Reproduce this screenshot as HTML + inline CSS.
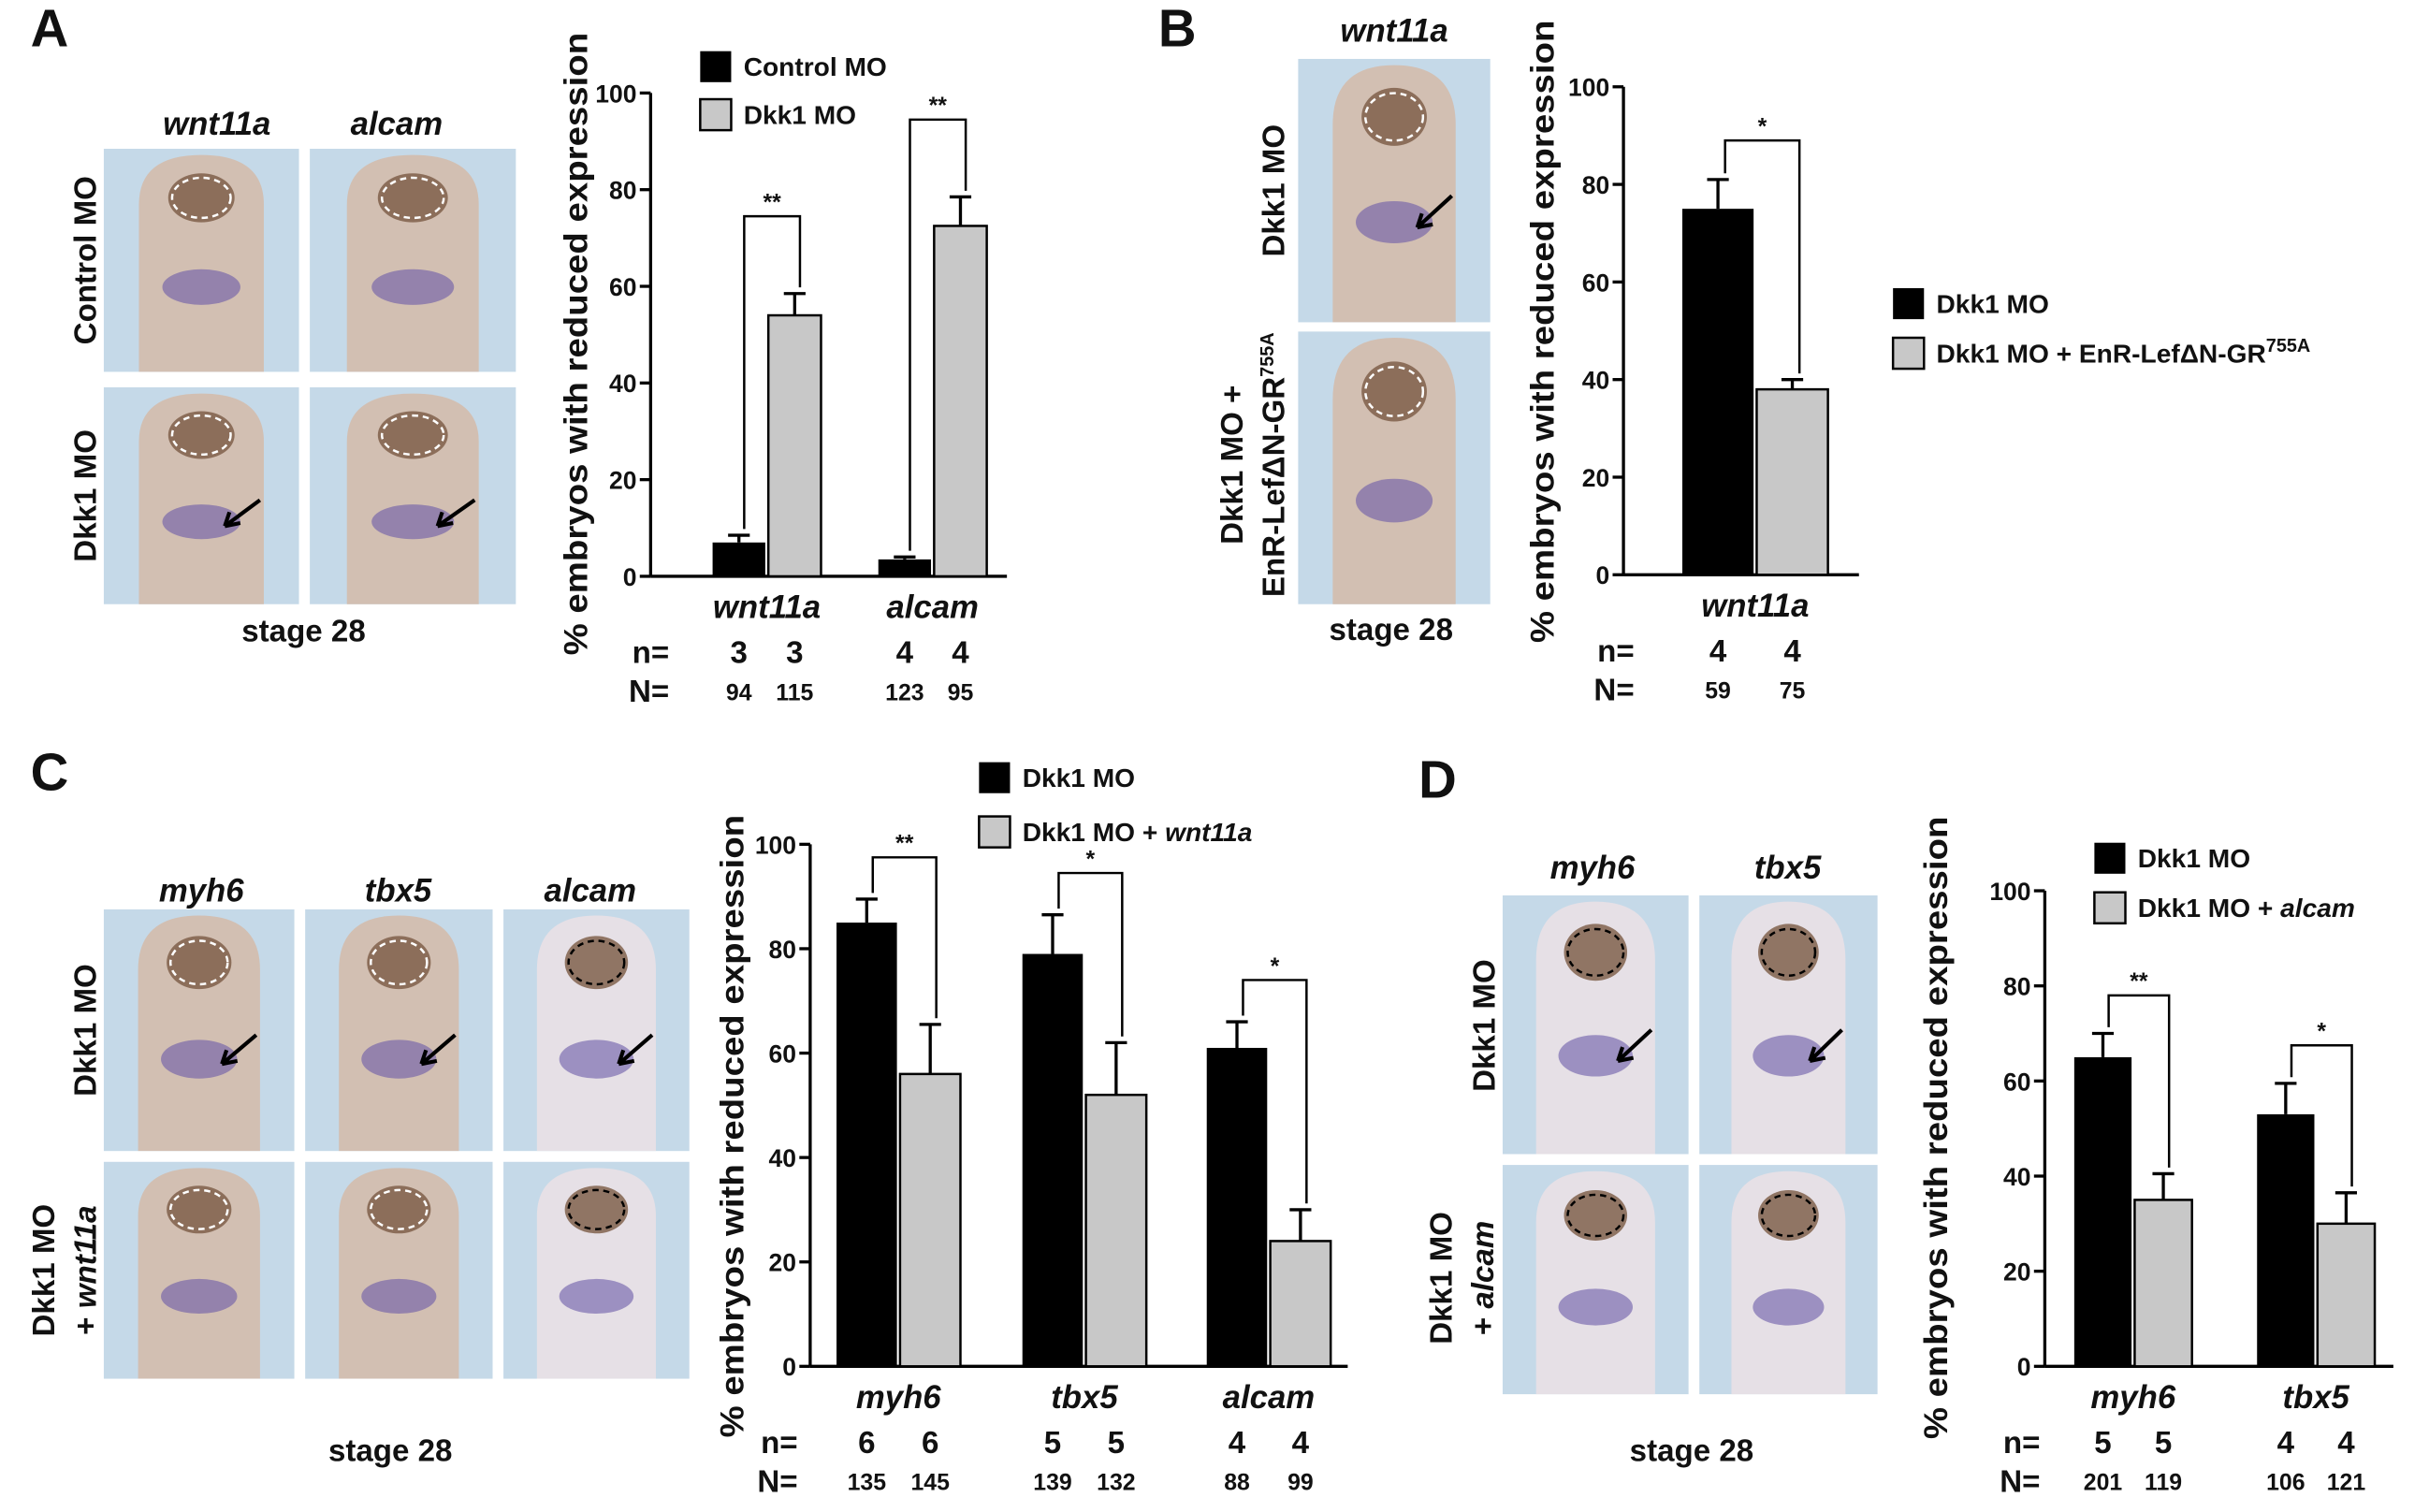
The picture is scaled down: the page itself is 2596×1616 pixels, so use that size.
<!DOCTYPE html>
<html><head><meta charset="utf-8"><style>
html,body{margin:0;padding:0;background:#fff}
svg{display:block}
text{font-family:"Liberation Sans",Arial,sans-serif;font-weight:bold;fill:#111}
</style></head><body>
<svg id="fig" width="2596" height="1616" viewBox="0 0 1568 976" xmlns="http://www.w3.org/2000/svg">
<g id="static"></g>
</svg>
<script>
// ---- Data (values in % embryos with reduced expression) ----
const ticks = [0, 20, 40, 60, 80, 100];

const catsA = ["wnt11a", "alcam"];
const blackA = [7, 3.5];
const blackErrA = [8.5, 4];
const grayA = [54, 72.5];
const grayErrA = [58.5, 78.5];
const nA = [3, 3, 4, 4];
const NA = [94, 115, 123, 95];
const sigA = ["**", "**"];

const catsB = ["wnt11a"];
const blackB = [75];
const blackErrB = [81];
const grayB = [38];
const grayErrB = [40];
const nB = [4, 4];
const NB = [59, 75];
const sigB = ["*"];

const catsC = ["myh6", "tbx5", "alcam"];
const blackC = [85, 79, 61];
const blackErrC = [89.5, 86.5, 66];
const grayC = [56, 52, 24];
const grayErrC = [65.5, 62, 30];
const nC = [6, 6, 5, 5, 4, 4];
const NC = [135, 145, 139, 132, 88, 99];
const sigC = ["**", "*", "*"];

const catsD = ["myh6", "tbx5"];
const blackD = [65, 53];
const blackErrD = [70, 59.5];
const grayD = [35, 30];
const grayErrD = [40.5, 36.5];
const nD = [5, 5, 4, 4];
const ND = [201, 119, 106, 121];
const sigD = ["**", "*"];

const NS = "http://www.w3.org/2000/svg";
const root = document.getElementById('fig');
function mk(tag, attrs, parent, txt) {
  const e = document.createElementNS(NS, tag);
  for (const k in attrs) e.setAttribute(k, attrs[k]);
  if (txt !== undefined) e.textContent = txt;
  (parent || root).appendChild(e);
  return e;
}

function chart(cfg, cats, bv, be, gv, ge, nv, Nv, sig) {
  const g = mk('g', {});
  
  
  const y = v => cfg.y0 - (cfg.y0 - cfg.y100) * v / 100;
  const ax = mk('g', {}, g);
  
  
  mk('line', {x1: cfg.ax, y1: y(100), x2: cfg.ax, y2: cfg.y0, stroke: '#000', 'stroke-width': 2}, ax);
  mk('line', {x1: cfg.ax, y1: cfg.y0, x2: cfg.axEnd, y2: cfg.y0, stroke: '#000', 'stroke-width': 2}, ax);
  ticks.forEach(t => {
    mk('line', {x1: cfg.ax - 7, y1: y(t), x2: cfg.ax, y2: y(t), stroke: '#000', 'stroke-width': 2}, ax);
    const tl = mk('text', {x: cfg.ax - 9, y: y(t) + 6, 'text-anchor': 'end', 'font-size': 16}, ax, t);
    
    
  });
  const yt = mk('text', {x: 0, y: 0, 'text-anchor': 'middle', 'font-size': 21, textLength: 402, lengthAdjust: 'spacingAndGlyphs', transform: `translate(${cfg.ylx},${cfg.ylCy}) rotate(-90)`}, g, '% embryos with reduced expression');
  
  
  cats.forEach((c, i) => {
    const bx = cfg.cx[i] - cfg.bw - 1, gx = cfg.cx[i] + 1;
    const b = mk('rect', {x: bx, y: y(bv[i]), width: cfg.bw, height: cfg.y0 - y(bv[i]), fill: '#000'}, g);
    
    
    const gr = mk('rect', {x: gx, y: y(gv[i]), width: cfg.bw, height: cfg.y0 - y(gv[i]), fill: '#c8c8c8', stroke: '#000', 'stroke-width': 1.5}, g);
    
    
    [[bx, bv[i], be[i]], [gx, gv[i], ge[i]]].forEach(([x0, v, e]) => {
      const xm = x0 + cfg.bw / 2;
      const el = mk('path', {d: `M${xm} ${y(v)}V${y(e)}M${xm - 7} ${y(e)}H${xm + 7}`, stroke: '#000', 'stroke-width': 2, fill: 'none'}, g);
      
      
    });
    const lx = bx + cfg.bw * 0.6, rx = gx + cfg.bw * 0.6;
    const top = y(Math.max(be[i], ge[i]) + cfg.bTop);
    const br = mk('path', {d: `M${lx} ${y(be[i]) - 4}V${top}H${rx}V${y(ge[i]) - 4}`, stroke: '#000', 'stroke-width': 1.5, fill: 'none'}, g);
    
    
    const st = mk('text', {x: (lx + rx) / 2, y: top - 4, 'text-anchor': 'middle', 'font-size': 15}, g, sig[i]);
    
    
    const cl = mk('text', {x: cfg.cx[i], y: cfg.y0 + 27, 'text-anchor': 'middle', 'font-size': 21, 'font-style': 'italic'}, g, c);
    
    
    [0, 1].forEach(j => {
      const xx = j ? gx + cfg.bw / 2 : bx + cfg.bw / 2;
      const nt = mk('text', {x: xx, y: cfg.y0 + 56, 'text-anchor': 'middle', 'font-size': 20}, g, nv[2 * i + j]);
      
      
      const Nt = mk('text', {x: xx, y: cfg.y0 + 80, 'text-anchor': 'middle', 'font-size': 15}, g, Nv[2 * i + j]);
      
      
    });
  });
  const n1 = mk('text', {x: cfg.nx, y: cfg.y0 + 56, 'text-anchor': 'end', 'font-size': 20}, g, 'n=');
  
  
  const n2 = mk('text', {x: cfg.nx, y: cfg.y0 + 81, 'text-anchor': 'end', 'font-size': 20}, g, 'N=');
  
  
  const lg = mk('g', {}, g);
  
  
  const s1 = mk('rect', {x: cfg.lx, y: cfg.ly, width: 20, height: 20, fill: '#000'}, lg);
  
  
  const t1 = mk('text', {x: cfg.lx + 28, y: cfg.ly + 16, 'font-size': 17}, lg, cfg.l1);
  
  
  const s2 = mk('rect', {x: cfg.lx, y: cfg.ly + cfg.lgap, width: 20, height: 20, fill: '#c8c8c8', stroke: '#000', 'stroke-width': 1.5}, lg);
  
  
  const t2 = mk('text', {x: cfg.lx + 28, y: cfg.ly + cfg.lgap + 16, 'font-size': 17}, lg);
  t2.innerHTML = cfg.l2;
  
  
}

chart({name: 'chart-a', ax: 420, axEnd: 650, y0: 372, y100: 60, bw: 34, cx: [495, 602], ylx: 379, ylCy: 222, nx: 432, bTop: 16, lx: 452, ly: 33, lgap: 31, l1: 'Control MO', l2: 'Dkk1 MO'},
  catsA, blackA, blackErrA, grayA, grayErrA, nA, NA, sigA);
chart({name: 'chart-b', ax: 1048, axEnd: 1200, y0: 371, y100: 56, bw: 46, cx: [1133], ylx: 1003, ylCy: 214, nx: 1055, bTop: 8, lx: 1222, ly: 186, lgap: 32, l1: 'Dkk1 MO', l2: 'Dkk1 MO + EnR-LefΔN-GR<tspan dy="-7" font-size="12">755A</tspan>'},
  catsB, blackB, blackErrB, grayB, grayErrB, nB, NB, sigB);
chart({name: 'chart-c', ax: 523, axEnd: 870, y0: 882, y100: 545, bw: 39, cx: [580, 700, 819], ylx: 480, ylCy: 727, nx: 515, bTop: 8, lx: 632, ly: 492, lgap: 35, l1: 'Dkk1 MO', l2: 'Dkk1 MO + <tspan font-style="italic">wnt11a</tspan>'},
  catsC, blackC, blackErrC, grayC, grayErrC, nC, NC, sigC);
chart({name: 'chart-d', ax: 1320, axEnd: 1545, y0: 882, y100: 575, bw: 37, cx: [1377, 1495], ylx: 1257, ylCy: 728, nx: 1317, bTop: 8, lx: 1352, ly: 544, lgap: 32, l1: 'Dkk1 MO', l2: 'Dkk1 MO + <tspan font-style="italic">alcam</tspan>'},
  catsD, blackD, blackErrD, grayD, grayErrD, nD, ND, sigD);

// ---- Embryo photos (approximated) ----
function photo(x, y, w, h, stain, dashColor, arrow) {
  const g = mk('g', {});
  
  
  mk('rect', {x, y, width: w, height: h, fill: '#c5d9e8'}, g);
  const cx = x + w / 2;
  mk('path', {d: `M${cx - w * 0.32} ${y + h}V${y + h * 0.25}Q${cx - w * 0.32} ${y + 4} ${cx} ${y + 4}Q${cx + w * 0.32} ${y + 4} ${cx + w * 0.32} ${y + h * 0.25}V${y + h}Z`, fill: stain ? '#e6e0e6' : '#d2bfb2'}, g);
  mk('ellipse', {cx, cy: y + h * 0.22, rx: w * 0.17, ry: h * 0.11, fill: '#7a5a44', opacity: 0.8}, g);
  mk('ellipse', {cx, cy: y + h * 0.22, rx: w * 0.15, ry: h * 0.09, fill: 'none', stroke: dashColor, 'stroke-dasharray': '4 3', 'stroke-width': 1.5}, g);
  mk('ellipse', {cx, cy: y + h * 0.62, rx: w * 0.2, ry: h * 0.08, fill: '#6a5aa8', opacity: 0.6}, g);
  if (arrow) mk('path', {d: `M${cx + w * 0.3} ${y + h * 0.52}L${cx + w * 0.12} ${y + h * 0.64}M${cx + w * 0.12} ${y + h * 0.64}l10 -2M${cx + w * 0.12} ${y + h * 0.64}l3 -9`, stroke: '#000', 'stroke-width': 2.5, fill: 'none'}, g);
}
photo(67, 96, 126, 144, false, '#fff', false); photo(200, 96, 133, 144, false, '#fff', false);
photo(67, 250, 126, 140, false, '#fff', true); photo(200, 250, 133, 140, false, '#fff', true);
photo(838, 38, 124, 170, false, '#fff', true); photo(838, 214, 124, 176, false, '#fff', false);
photo(67, 587, 123, 156, false, '#fff', true); photo(197, 587, 121, 156, false, '#fff', true); photo(325, 587, 120, 156, true, '#000', true);
photo(67, 750, 123, 140, false, '#fff', false); photo(197, 750, 121, 140, false, '#fff', false); photo(325, 750, 120, 140, true, '#000', false);
photo(970, 578, 120, 167, true, '#000', true); photo(1097, 578, 115, 167, true, '#000', true);
photo(970, 752, 120, 148, true, '#000', false); photo(1097, 752, 115, 148, true, '#000', false);

// ---- Static labels ----
function txt(name, x, y, s, size, opts) {
  const t = mk('text', Object.assign({x, y, 'font-size': size, 'text-anchor': 'middle'}, opts || {}));
  t.innerHTML = s;
  
  
}
function rot(name, x, y, s, size) {
  const t = mk('text', {x: 0, y: 0, 'font-size': size, 'text-anchor': 'middle', transform: `translate(${x},${y}) rotate(-90)`});
  t.innerHTML = s;
  
  
}
txt('panel-label-a', 32, 30, 'A', 34); txt('panel-label-b', 760, 30, 'B', 34);
txt('panel-label-c', 32, 510, 'C', 34); txt('panel-label-d', 928, 515, 'D', 34);
txt('gene-label', 140, 87, 'wnt11a', 21, {'font-style': 'italic'});
txt('gene-label', 256, 87, 'alcam', 21, {'font-style': 'italic'});
txt('gene-label', 900, 27, 'wnt11a', 21, {'font-style': 'italic'});
txt('gene-label', 130, 582, 'myh6', 21, {'font-style': 'italic'});
txt('gene-label', 257, 582, 'tbx5', 21, {'font-style': 'italic'});
txt('gene-label', 381, 582, 'alcam', 21, {'font-style': 'italic'});
txt('gene-label', 1028, 567, 'myh6', 21, {'font-style': 'italic'});
txt('gene-label', 1154, 567, 'tbx5', 21, {'font-style': 'italic'});
txt('stage-label', 196, 414, 'stage 28', 20); txt('stage-label', 898, 413, 'stage 28', 20);
txt('stage-label', 252, 943, 'stage 28', 20); txt('stage-label', 1092, 943, 'stage 28', 20);
rot('row-label', 62, 168, 'Control MO', 20); rot('row-label', 62, 320, 'Dkk1 MO', 20);
rot('row-label', 829, 123, 'Dkk1 MO', 20);
rot('row-label', 802, 300, 'Dkk1 MO +', 20);
rot('row-label', 829, 300, 'EnR-LefΔN-GR<tspan dy="-7" font-size="12">755A</tspan>', 20);
rot('row-label', 62, 665, 'Dkk1 MO', 20);
rot('row-label', 35, 820, 'Dkk1 MO', 20); rot('row-label', 62, 820, '+ <tspan font-style="italic">wnt11a</tspan>', 20);
rot('row-label', 965, 662, 'Dkk1 MO', 20);
rot('row-label', 937, 825, 'Dkk1 MO', 20); rot('row-label', 964, 825, '+ <tspan font-style="italic">alcam</tspan>', 20);
</script>
</body></html>
